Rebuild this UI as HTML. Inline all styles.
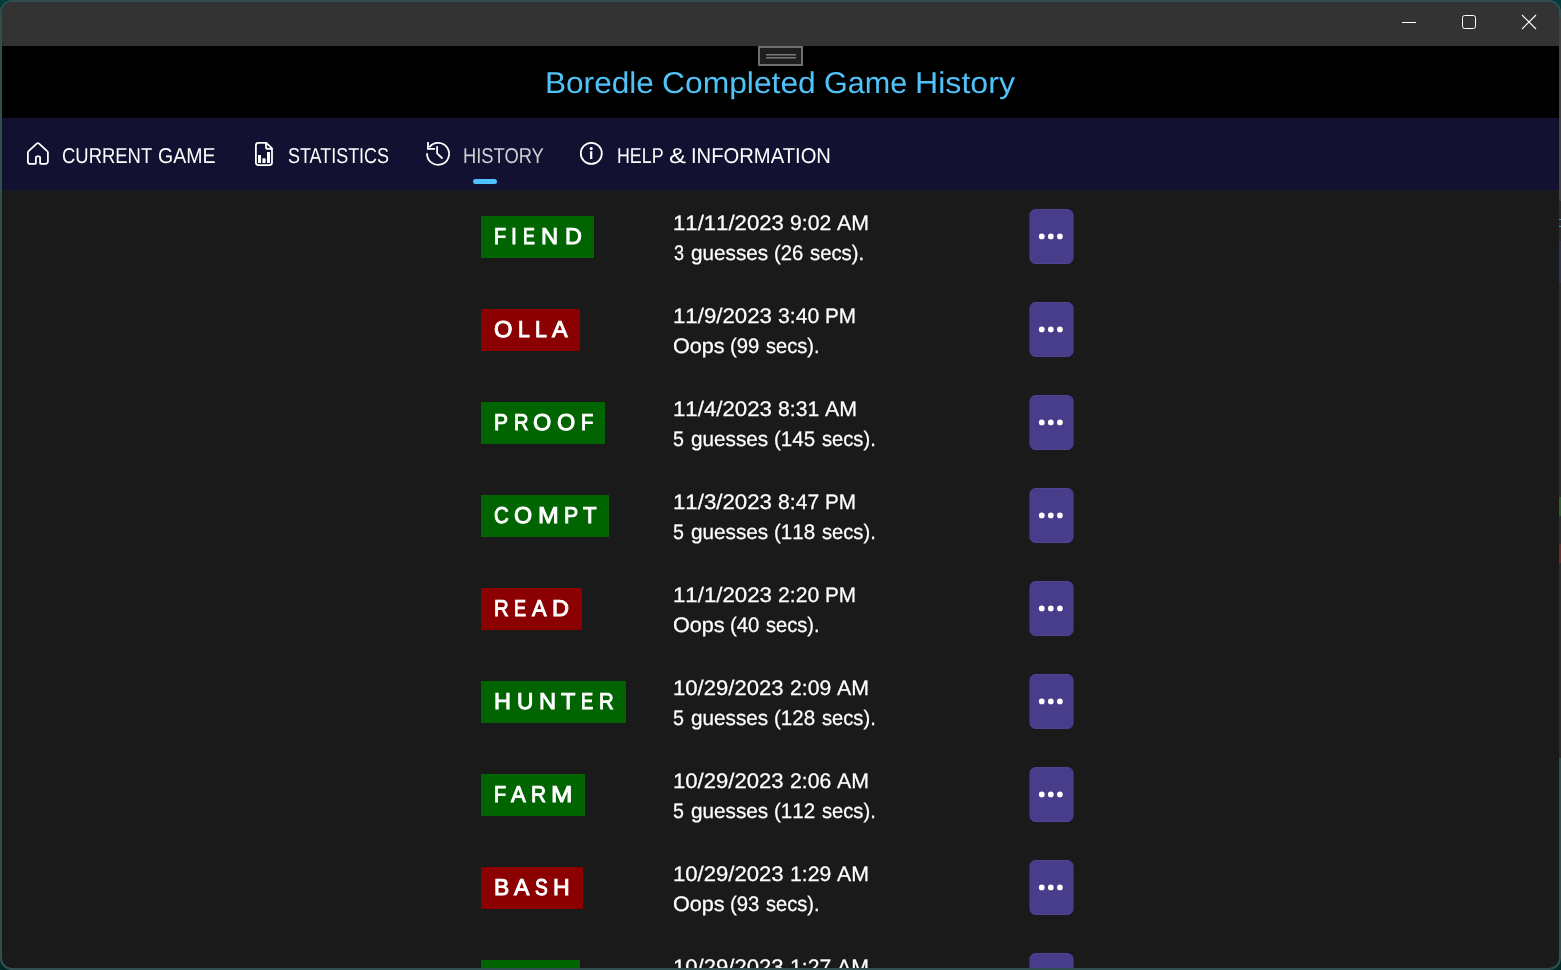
<!DOCTYPE html>
<html><head><meta charset="utf-8"><title>Boredle</title>
<style>
html,body{margin:0;padding:0;width:1561px;height:970px;overflow:hidden;background:linear-gradient(#003e3e,#002a2a);font-family:"Liberation Sans",sans-serif;}
#win{position:absolute;left:0;top:0;width:1561px;height:970px;box-sizing:border-box;border:2px solid #305050;border-radius:12px;overflow:hidden;background:#1a1a1a;}
#in{position:absolute;left:-2px;top:-2px;width:1561px;height:970px;}
.abs{position:absolute}
#tb{left:0;top:0;width:1561px;height:46px;background:#333333}
#hd{left:0;top:46px;width:1561px;height:72px;background:#000}
#nav{left:0;top:118px;width:1561px;height:72px;background:#121132}
.t{position:absolute;white-space:pre;text-rendering:geometricPrecision;line-height:1;color:#fff;transform-origin:0 0;display:block}
.nk{font-kerning:none}
#tx{position:absolute;left:0;top:0;width:1561px;height:970px;will-change:transform}
.wd{position:absolute;height:42px}
svg{position:absolute;overflow:visible}
</style></head>
<body>
<div id="win"><div id="in">
<div id="tb" class="abs"></div>
<div id="hd" class="abs"></div>
<div id="nav" class="abs"></div>
<!-- drag handle -->
<div class="abs" style="left:758px;top:46px;width:45px;height:20px;box-sizing:border-box;border:2px solid #6e6e6e;background:#1e1e1e"></div>
<div class="abs" style="left:766px;top:54px;width:30px;height:2px;background:linear-gradient(#787878 50%,#4c4c4c 50%)"></div>
<div class="abs" style="left:766px;top:57px;width:30px;height:2px;background:linear-gradient(#787878 50%,#4c4c4c 50%)"></div>
<!-- window controls -->
<svg style="left:1395px;top:8px" width="150" height="30" viewBox="1395 8 150 30" fill="none" stroke="#fff" stroke-width="1">
<path d="M1402 22.5H1416"/>
<rect x="1462.5" y="15.5" width="13" height="13" rx="2.2"/>
<path d="M1522 15L1536 29M1536 15L1522 29" stroke-width="1.1"/>
</svg>
<!-- nav icons -->
<svg style="left:20px;top:136px" width="600" height="40" viewBox="20 136 600 40" fill="none" stroke="#fff" stroke-width="1.8" stroke-linejoin="round" stroke-linecap="round">
<!-- home -->
<path d="M34.9 163.9H30.4a2.5 2.5 0 0 1-2.5-2.5V152.6a2 2 0 0 1 .7-1.5L36.7 143.6a1.8 1.8 0 0 1 2.4 0L47.2 151.1a2 2 0 0 1 .7 1.5V161.4a2.5 2.5 0 0 1-2.5 2.5H41.1a1 1 0 0 1-1-1V157.6a1.3 1.3 0 0 0-1.3-1.3h-1.6a1.3 1.3 0 0 0-1.3 1.3V162.9a1 1 0 0 1-1 1Z"/>
<!-- statistics doc -->
<path d="M258.4 142.9H266.3L272 148.4V162.6a2.5 2.5 0 0 1-2.5 2.5H258.4a2.5 2.5 0 0 1-2.5-2.5V145.4a2.5 2.5 0 0 1 2.5-2.5Z"/>
<path d="M266 143.2V146.9a2 2 0 0 0 2 2H271.8"/>
<g stroke="none" fill="#fff"><rect x="258" y="155" width="3" height="8"/><rect x="262.4" y="158.3" width="3.2" height="4.7"/><rect x="267" y="152" width="3" height="11"/></g>
<!-- history -->
<path d="M429.4 147.1A11 11 0 1 1 427.1 153.2" stroke-linecap="butt"/>
<path d="M428 142V148.85H435" stroke-linecap="butt" stroke-linejoin="miter"/>
<path d="M437.1 146.2V153.3L442.5 158.5" stroke-linecap="butt" stroke-linejoin="miter"/>
<!-- info -->
<circle cx="591.3" cy="153.4" r="10.5"/>
<path d="M591.2 151.2V159" stroke-width="2.2" stroke-linecap="butt"/>
<circle cx="591.2" cy="148.6" r="1.55" fill="#fff" stroke="none"/>
</svg>
<div class="abs" style="left:473px;top:179px;width:24px;height:5px;border-radius:2.5px;background:#4cc2ff"></div>
<div class="wd" style="left:481px;top:216px;width:113px;background:#006400"></div>
<svg class="mb" style="left:1029px;top:209px" width="46" height="56"><rect x="1" y=".5" width="43" height="54" rx="5.5" fill="#483d8b" stroke="#4e4394" stroke-width="1"/><circle cx="12.75" cy="27.4" r="2.85" fill="#fff"/><circle cx="21.8" cy="27.4" r="2.85" fill="#fff"/><circle cx="30.9" cy="27.4" r="2.85" fill="#fff"/></svg>
<div class="wd" style="left:481px;top:309px;width:99px;background:#8b0000"></div>
<svg class="mb" style="left:1029px;top:302px" width="46" height="56"><rect x="1" y=".5" width="43" height="54" rx="5.5" fill="#483d8b" stroke="#4e4394" stroke-width="1"/><circle cx="12.75" cy="27.4" r="2.85" fill="#fff"/><circle cx="21.8" cy="27.4" r="2.85" fill="#fff"/><circle cx="30.9" cy="27.4" r="2.85" fill="#fff"/></svg>
<div class="wd" style="left:481px;top:402px;width:124px;background:#006400"></div>
<svg class="mb" style="left:1029px;top:395px" width="46" height="56"><rect x="1" y=".5" width="43" height="54" rx="5.5" fill="#483d8b" stroke="#4e4394" stroke-width="1"/><circle cx="12.75" cy="27.4" r="2.85" fill="#fff"/><circle cx="21.8" cy="27.4" r="2.85" fill="#fff"/><circle cx="30.9" cy="27.4" r="2.85" fill="#fff"/></svg>
<div class="wd" style="left:481px;top:495px;width:128px;background:#006400"></div>
<svg class="mb" style="left:1029px;top:488px" width="46" height="56"><rect x="1" y=".5" width="43" height="54" rx="5.5" fill="#483d8b" stroke="#4e4394" stroke-width="1"/><circle cx="12.75" cy="27.4" r="2.85" fill="#fff"/><circle cx="21.8" cy="27.4" r="2.85" fill="#fff"/><circle cx="30.9" cy="27.4" r="2.85" fill="#fff"/></svg>
<div class="wd" style="left:481px;top:588px;width:101px;background:#8b0000"></div>
<svg class="mb" style="left:1029px;top:581px" width="46" height="56"><rect x="1" y=".5" width="43" height="54" rx="5.5" fill="#483d8b" stroke="#4e4394" stroke-width="1"/><circle cx="12.75" cy="27.4" r="2.85" fill="#fff"/><circle cx="21.8" cy="27.4" r="2.85" fill="#fff"/><circle cx="30.9" cy="27.4" r="2.85" fill="#fff"/></svg>
<div class="wd" style="left:481px;top:681px;width:145px;background:#006400"></div>
<svg class="mb" style="left:1029px;top:674px" width="46" height="56"><rect x="1" y=".5" width="43" height="54" rx="5.5" fill="#483d8b" stroke="#4e4394" stroke-width="1"/><circle cx="12.75" cy="27.4" r="2.85" fill="#fff"/><circle cx="21.8" cy="27.4" r="2.85" fill="#fff"/><circle cx="30.9" cy="27.4" r="2.85" fill="#fff"/></svg>
<div class="wd" style="left:481px;top:774px;width:104px;background:#006400"></div>
<svg class="mb" style="left:1029px;top:767px" width="46" height="56"><rect x="1" y=".5" width="43" height="54" rx="5.5" fill="#483d8b" stroke="#4e4394" stroke-width="1"/><circle cx="12.75" cy="27.4" r="2.85" fill="#fff"/><circle cx="21.8" cy="27.4" r="2.85" fill="#fff"/><circle cx="30.9" cy="27.4" r="2.85" fill="#fff"/></svg>
<div class="wd" style="left:481px;top:867px;width:102px;background:#8b0000"></div>
<svg class="mb" style="left:1029px;top:860px" width="46" height="56"><rect x="1" y=".5" width="43" height="54" rx="5.5" fill="#483d8b" stroke="#4e4394" stroke-width="1"/><circle cx="12.75" cy="27.4" r="2.85" fill="#fff"/><circle cx="21.8" cy="27.4" r="2.85" fill="#fff"/><circle cx="30.9" cy="27.4" r="2.85" fill="#fff"/></svg>
<div class="wd" style="left:481px;top:960px;width:99px;background:#006400"></div>
<svg class="mb" style="left:1029px;top:953px" width="46" height="56"><rect x="1" y=".5" width="43" height="54" rx="5.5" fill="#483d8b" stroke="#4e4394" stroke-width="1"/><circle cx="12.75" cy="27.4" r="2.85" fill="#fff"/><circle cx="21.8" cy="27.4" r="2.85" fill="#fff"/><circle cx="30.9" cy="27.4" r="2.85" fill="#fff"/></svg>
<div id="tx">
<span class="t" style="left:545.37px;top:68.50px;font-size:30.0px;color:#4fc3f7;transform:translateY(0px) scaleX(1.0523)">Boredle</span>
<span class="t" style="left:661.58px;top:68.50px;font-size:30.0px;color:#4fc3f7;transform:translateY(0px) scaleX(1.0601)">Completed</span>
<span class="t" style="left:823.77px;top:68.50px;font-size:30.0px;color:#4fc3f7;transform:translateY(0px) scaleX(1.0177)">Game</span>
<span class="t" style="left:914.86px;top:68.50px;font-size:30.0px;color:#4fc3f7;transform:translateY(0px) scaleX(1.0708)">History</span>
<span class="t" style="left:62.35px;top:146.00px;font-size:21.5px;transform:translateY(0px) scaleX(0.8579)">CURRENT</span>
<span class="t" style="left:157.79px;top:146.00px;font-size:21.5px;transform:translateY(0px) scaleX(0.9073)">GAME</span>
<span class="t" style="left:287.92px;top:146.00px;font-size:21.5px;transform:translateY(0px) scaleX(0.8343)">STATISTICS</span>
<span class="t" style="left:462.83px;top:146.00px;font-size:21.5px;color:#cfcfd6;transform:translateY(0px) scaleX(0.8530)">HISTORY</span>
<span class="t" style="left:617.06px;top:146.00px;font-size:21.5px;transform:translateY(0px) scaleX(0.8280)">HELP</span>
<span class="t" style="left:669.40px;top:146.00px;font-size:21.5px;transform:translateY(0px) scaleX(1.1827)">&amp;</span>
<span class="t" style="left:690.53px;top:146.00px;font-size:21.5px;transform:translateY(0px) scaleX(0.9399)">INFORMATION</span>
<span class="t" style="left:493.84px;top:225.40px;font-size:22.8px;-webkit-text-stroke:0.95px #fff;transform:translateY(0px) scaleX(0.8688)">F</span>
<span class="t" style="left:510.89px;top:225.40px;font-size:22.8px;-webkit-text-stroke:0.95px #fff;transform:translateY(0px) scaleX(0.9286)">I</span>
<span class="t" style="left:523.17px;top:225.40px;font-size:22.8px;-webkit-text-stroke:0.95px #fff;transform:translateY(0px) scaleX(0.7819)">E</span>
<span class="t" style="left:540.83px;top:225.40px;font-size:22.8px;-webkit-text-stroke:0.95px #fff;transform:translateY(0px) scaleX(1.0422)">N</span>
<span class="t" style="left:564.93px;top:225.40px;font-size:22.8px;-webkit-text-stroke:0.95px #fff;transform:translateY(0px) scaleX(1.0256)">D</span>
<span class="t nk" style="left:672.53px;top:213.00px;font-size:21.0px;-webkit-text-stroke:0.25px #fff;transform:translateY(0px) scaleX(1.0544)">11/11/2023</span>
<span class="t nk" style="left:790.17px;top:213.00px;font-size:21.0px;-webkit-text-stroke:0.25px #fff;transform:translateY(0px) scaleX(1.0064)">9:02</span>
<span class="t" style="left:837.10px;top:213.00px;font-size:21.0px;-webkit-text-stroke:0.25px #fff;transform:translateY(0px) scaleX(1.0133)">AM</span>
<span class="t nk" style="left:673.87px;top:243.00px;font-size:21.0px;-webkit-text-stroke:0.25px #fff;transform:translateY(0px) scaleX(0.8571)">3</span>
<span class="t" style="left:690.94px;top:243.00px;font-size:21.0px;-webkit-text-stroke:0.25px #fff;transform:translateY(0px) scaleX(0.9872)">guesses</span>
<span class="t nk" style="left:774.42px;top:243.00px;font-size:21.0px;-webkit-text-stroke:0.25px #fff;transform:translateY(0px) scaleX(0.9644)">(26</span>
<span class="t" style="left:810.18px;top:243.00px;font-size:21.0px;-webkit-text-stroke:0.25px #fff;transform:translateY(0px) scaleX(0.9647)">secs).</span>
<span class="t" style="left:493.90px;top:318.40px;font-size:22.8px;-webkit-text-stroke:0.95px #fff;transform:translateY(0px) scaleX(1.0389)">O</span>
<span class="t" style="left:517.76px;top:318.40px;font-size:22.8px;-webkit-text-stroke:0.95px #fff;transform:translateY(0px) scaleX(0.9322)">L</span>
<span class="t" style="left:534.89px;top:318.40px;font-size:22.8px;-webkit-text-stroke:0.95px #fff;transform:translateY(0px) scaleX(0.9401)">L</span>
<span class="t" style="left:551.81px;top:318.40px;font-size:22.8px;-webkit-text-stroke:0.95px #fff;transform:translateY(0px) scaleX(1.0279)">A</span>
<span class="t nk" style="left:672.54px;top:306.00px;font-size:21.0px;-webkit-text-stroke:0.25px #fff;transform:translateY(0px) scaleX(1.0595)">11/9/2023</span>
<span class="t nk" style="left:777.67px;top:306.00px;font-size:21.0px;-webkit-text-stroke:0.25px #fff;transform:translateY(0px) scaleX(1.0064)">3:40</span>
<span class="t" style="left:825.32px;top:306.00px;font-size:21.0px;-webkit-text-stroke:0.25px #fff;transform:translateY(0px) scaleX(0.9860)">PM</span>
<span class="t" style="left:672.87px;top:336.00px;font-size:21.0px;-webkit-text-stroke:0.25px #fff;transform:translateY(0px) scaleX(1.0289)">Oops</span>
<span class="t nk" style="left:729.89px;top:336.00px;font-size:21.0px;-webkit-text-stroke:0.25px #fff;transform:translateY(0px) scaleX(0.9691)">(99</span>
<span class="t" style="left:765.94px;top:336.00px;font-size:21.0px;-webkit-text-stroke:0.25px #fff;transform:translateY(0px) scaleX(0.9560)">secs).</span>
<span class="t" style="left:493.84px;top:411.40px;font-size:22.8px;-webkit-text-stroke:0.95px #fff;transform:translateY(0px) scaleX(0.9207)">P</span>
<span class="t" style="left:514.09px;top:411.40px;font-size:22.8px;-webkit-text-stroke:0.95px #fff;transform:translateY(0px) scaleX(0.8840)">R</span>
<span class="t" style="left:533.04px;top:411.40px;font-size:22.8px;-webkit-text-stroke:0.95px #fff;transform:translateY(0px) scaleX(1.0297)">O</span>
<span class="t" style="left:556.55px;top:411.40px;font-size:22.8px;-webkit-text-stroke:0.95px #fff;transform:translateY(0px) scaleX(1.0278)">O</span>
<span class="t" style="left:580.77px;top:411.40px;font-size:22.8px;-webkit-text-stroke:0.95px #fff;transform:translateY(0px) scaleX(0.8836)">F</span>
<span class="t nk" style="left:672.54px;top:399.00px;font-size:21.0px;-webkit-text-stroke:0.25px #fff;transform:translateY(0px) scaleX(1.0595)">11/4/2023</span>
<span class="t nk" style="left:777.67px;top:399.00px;font-size:21.0px;-webkit-text-stroke:0.25px #fff;transform:translateY(0px) scaleX(1.0064)">8:31</span>
<span class="t" style="left:824.83px;top:399.00px;font-size:21.0px;-webkit-text-stroke:0.25px #fff;transform:translateY(0px) scaleX(1.0164)">AM</span>
<span class="t nk" style="left:673.10px;top:429.00px;font-size:21.0px;-webkit-text-stroke:0.25px #fff;transform:translateY(0px) scaleX(0.9356)">5</span>
<span class="t" style="left:690.94px;top:429.00px;font-size:21.0px;-webkit-text-stroke:0.25px #fff;transform:translateY(0px) scaleX(0.9872)">guesses</span>
<span class="t nk" style="left:774.36px;top:429.00px;font-size:21.0px;-webkit-text-stroke:0.25px #fff;transform:translateY(0px) scaleX(0.9773)">(145</span>
<span class="t" style="left:821.82px;top:429.00px;font-size:21.0px;-webkit-text-stroke:0.25px #fff;transform:translateY(0px) scaleX(0.9593)">secs).</span>
<span class="t" style="left:493.54px;top:504.40px;font-size:22.8px;-webkit-text-stroke:0.95px #fff;transform:translateY(0px) scaleX(0.8944)">C</span>
<span class="t" style="left:513.78px;top:504.40px;font-size:22.8px;-webkit-text-stroke:0.95px #fff;transform:translateY(0px) scaleX(1.0209)">O</span>
<span class="t" style="left:537.55px;top:504.40px;font-size:22.8px;-webkit-text-stroke:0.95px #fff;transform:translateY(0px) scaleX(1.0902)">M</span>
<span class="t" style="left:564.26px;top:504.40px;font-size:22.8px;-webkit-text-stroke:0.95px #fff;transform:translateY(0px) scaleX(0.9347)">P</span>
<span class="t" style="left:583.22px;top:504.40px;font-size:22.8px;-webkit-text-stroke:0.95px #fff;transform:translateY(0px) scaleX(0.9725)">T</span>
<span class="t nk" style="left:672.54px;top:492.00px;font-size:21.0px;-webkit-text-stroke:0.25px #fff;transform:translateY(0px) scaleX(1.0595)">11/3/2023</span>
<span class="t nk" style="left:777.67px;top:492.00px;font-size:21.0px;-webkit-text-stroke:0.25px #fff;transform:translateY(0px) scaleX(1.0064)">8:47</span>
<span class="t" style="left:825.32px;top:492.00px;font-size:21.0px;-webkit-text-stroke:0.25px #fff;transform:translateY(0px) scaleX(0.9860)">PM</span>
<span class="t nk" style="left:673.10px;top:522.00px;font-size:21.0px;-webkit-text-stroke:0.25px #fff;transform:translateY(0px) scaleX(0.9356)">5</span>
<span class="t" style="left:690.94px;top:522.00px;font-size:21.0px;-webkit-text-stroke:0.25px #fff;transform:translateY(0px) scaleX(0.9872)">guesses</span>
<span class="t nk" style="left:774.36px;top:522.00px;font-size:21.0px;-webkit-text-stroke:0.25px #fff;transform:translateY(0px) scaleX(0.9773)">(118</span>
<span class="t" style="left:821.82px;top:522.00px;font-size:21.0px;-webkit-text-stroke:0.25px #fff;transform:translateY(0px) scaleX(0.9593)">secs).</span>
<span class="t" style="left:493.84px;top:597.40px;font-size:22.8px;-webkit-text-stroke:0.95px #fff;transform:translateY(0px) scaleX(0.8926)">R</span>
<span class="t" style="left:513.94px;top:597.40px;font-size:22.8px;-webkit-text-stroke:0.95px #fff;transform:translateY(0px) scaleX(0.7926)">E</span>
<span class="t" style="left:531.75px;top:597.40px;font-size:22.8px;-webkit-text-stroke:0.95px #fff;transform:translateY(0px) scaleX(0.9564)">A</span>
<span class="t" style="left:552.02px;top:597.40px;font-size:22.8px;-webkit-text-stroke:0.95px #fff;transform:translateY(0px) scaleX(1.0345)">D</span>
<span class="t nk" style="left:672.54px;top:585.00px;font-size:21.0px;-webkit-text-stroke:0.25px #fff;transform:translateY(0px) scaleX(1.0595)">11/1/2023</span>
<span class="t nk" style="left:777.67px;top:585.00px;font-size:21.0px;-webkit-text-stroke:0.25px #fff;transform:translateY(0px) scaleX(1.0064)">2:20</span>
<span class="t" style="left:825.32px;top:585.00px;font-size:21.0px;-webkit-text-stroke:0.25px #fff;transform:translateY(0px) scaleX(0.9860)">PM</span>
<span class="t" style="left:672.87px;top:615.00px;font-size:21.0px;-webkit-text-stroke:0.25px #fff;transform:translateY(0px) scaleX(1.0289)">Oops</span>
<span class="t nk" style="left:729.89px;top:615.00px;font-size:21.0px;-webkit-text-stroke:0.25px #fff;transform:translateY(0px) scaleX(0.9691)">(40</span>
<span class="t" style="left:765.94px;top:615.00px;font-size:21.0px;-webkit-text-stroke:0.25px #fff;transform:translateY(0px) scaleX(0.9560)">secs).</span>
<span class="t" style="left:494.05px;top:690.40px;font-size:22.8px;-webkit-text-stroke:0.95px #fff;transform:translateY(0px) scaleX(1.0299)">H</span>
<span class="t" style="left:516.92px;top:690.40px;font-size:22.8px;-webkit-text-stroke:0.95px #fff;transform:translateY(0px) scaleX(0.9908)">U</span>
<span class="t" style="left:539.32px;top:690.40px;font-size:22.8px;-webkit-text-stroke:0.95px #fff;transform:translateY(0px) scaleX(1.0375)">N</span>
<span class="t" style="left:561.05px;top:690.40px;font-size:22.8px;-webkit-text-stroke:0.95px #fff;transform:translateY(0px) scaleX(1.0289)">T</span>
<span class="t" style="left:580.52px;top:690.40px;font-size:22.8px;-webkit-text-stroke:0.95px #fff;transform:translateY(0px) scaleX(0.8022)">E</span>
<span class="t" style="left:599.13px;top:690.40px;font-size:22.8px;-webkit-text-stroke:0.95px #fff;transform:translateY(0px) scaleX(0.8915)">R</span>
<span class="t nk" style="left:672.72px;top:678.00px;font-size:21.0px;-webkit-text-stroke:0.25px #fff;transform:translateY(0px) scaleX(1.0524)">10/29/2023</span>
<span class="t nk" style="left:790.17px;top:678.00px;font-size:21.0px;-webkit-text-stroke:0.25px #fff;transform:translateY(0px) scaleX(1.0064)">2:09</span>
<span class="t" style="left:837.10px;top:678.00px;font-size:21.0px;-webkit-text-stroke:0.25px #fff;transform:translateY(0px) scaleX(1.0133)">AM</span>
<span class="t nk" style="left:673.10px;top:708.00px;font-size:21.0px;-webkit-text-stroke:0.25px #fff;transform:translateY(0px) scaleX(0.9356)">5</span>
<span class="t" style="left:690.94px;top:708.00px;font-size:21.0px;-webkit-text-stroke:0.25px #fff;transform:translateY(0px) scaleX(0.9872)">guesses</span>
<span class="t nk" style="left:774.36px;top:708.00px;font-size:21.0px;-webkit-text-stroke:0.25px #fff;transform:translateY(0px) scaleX(0.9773)">(128</span>
<span class="t" style="left:821.82px;top:708.00px;font-size:21.0px;-webkit-text-stroke:0.25px #fff;transform:translateY(0px) scaleX(0.9593)">secs).</span>
<span class="t" style="left:493.84px;top:783.40px;font-size:22.8px;-webkit-text-stroke:0.95px #fff;transform:translateY(0px) scaleX(0.8688)">F</span>
<span class="t" style="left:510.77px;top:783.40px;font-size:22.8px;-webkit-text-stroke:0.95px #fff;transform:translateY(0px) scaleX(0.9697)">A</span>
<span class="t" style="left:531.06px;top:783.40px;font-size:22.8px;-webkit-text-stroke:0.95px #fff;transform:translateY(0px) scaleX(0.9124)">R</span>
<span class="t" style="left:550.93px;top:783.40px;font-size:22.8px;-webkit-text-stroke:0.95px #fff;transform:translateY(0px) scaleX(1.1255)">M</span>
<span class="t nk" style="left:672.72px;top:771.00px;font-size:21.0px;-webkit-text-stroke:0.25px #fff;transform:translateY(0px) scaleX(1.0524)">10/29/2023</span>
<span class="t nk" style="left:790.17px;top:771.00px;font-size:21.0px;-webkit-text-stroke:0.25px #fff;transform:translateY(0px) scaleX(1.0064)">2:06</span>
<span class="t" style="left:837.10px;top:771.00px;font-size:21.0px;-webkit-text-stroke:0.25px #fff;transform:translateY(0px) scaleX(1.0133)">AM</span>
<span class="t nk" style="left:673.10px;top:801.00px;font-size:21.0px;-webkit-text-stroke:0.25px #fff;transform:translateY(0px) scaleX(0.9356)">5</span>
<span class="t" style="left:690.94px;top:801.00px;font-size:21.0px;-webkit-text-stroke:0.25px #fff;transform:translateY(0px) scaleX(0.9872)">guesses</span>
<span class="t nk" style="left:774.36px;top:801.00px;font-size:21.0px;-webkit-text-stroke:0.25px #fff;transform:translateY(0px) scaleX(0.9773)">(112</span>
<span class="t" style="left:821.82px;top:801.00px;font-size:21.0px;-webkit-text-stroke:0.25px #fff;transform:translateY(0px) scaleX(0.9593)">secs).</span>
<span class="t" style="left:494.28px;top:876.40px;font-size:22.8px;-webkit-text-stroke:0.95px #fff;transform:translateY(0px) scaleX(1.0034)">B</span>
<span class="t" style="left:513.54px;top:876.40px;font-size:22.8px;-webkit-text-stroke:0.95px #fff;transform:translateY(0px) scaleX(1.0144)">A</span>
<span class="t" style="left:534.95px;top:876.40px;font-size:22.8px;-webkit-text-stroke:0.95px #fff;transform:translateY(0px) scaleX(0.8413)">S</span>
<span class="t" style="left:553.11px;top:876.40px;font-size:22.8px;-webkit-text-stroke:0.95px #fff;transform:translateY(0px) scaleX(1.0109)">H</span>
<span class="t nk" style="left:672.72px;top:864.00px;font-size:21.0px;-webkit-text-stroke:0.25px #fff;transform:translateY(0px) scaleX(1.0524)">10/29/2023</span>
<span class="t nk" style="left:790.17px;top:864.00px;font-size:21.0px;-webkit-text-stroke:0.25px #fff;transform:translateY(0px) scaleX(1.0064)">1:29</span>
<span class="t" style="left:837.10px;top:864.00px;font-size:21.0px;-webkit-text-stroke:0.25px #fff;transform:translateY(0px) scaleX(1.0133)">AM</span>
<span class="t" style="left:672.87px;top:894.00px;font-size:21.0px;-webkit-text-stroke:0.25px #fff;transform:translateY(0px) scaleX(1.0289)">Oops</span>
<span class="t nk" style="left:729.89px;top:894.00px;font-size:21.0px;-webkit-text-stroke:0.25px #fff;transform:translateY(0px) scaleX(0.9691)">(93</span>
<span class="t" style="left:765.94px;top:894.00px;font-size:21.0px;-webkit-text-stroke:0.25px #fff;transform:translateY(0px) scaleX(0.9560)">secs).</span>
<span class="t nk" style="left:672.72px;top:957.00px;font-size:21.0px;-webkit-text-stroke:0.25px #fff;transform:translateY(0px) scaleX(1.0524)">10/29/2023</span>
<span class="t nk" style="left:790.17px;top:957.00px;font-size:21.0px;-webkit-text-stroke:0.25px #fff;transform:translateY(0px) scaleX(1.0064)">1:27</span>
<span class="t" style="left:837.10px;top:957.00px;font-size:21.0px;-webkit-text-stroke:0.25px #fff;transform:translateY(0px) scaleX(1.0133)">AM</span>
</div>
</div></div>
<!-- right edge strip (background window showing) -->
<div class="abs" style="left:1559px;top:18px;width:2px;height:183px;background:#424242"></div>
<div class="abs" style="left:1559px;top:201px;width:2px;height:557px;background:#2d2d2d"></div>
<div class="abs" style="left:1559px;top:241px;width:2px;height:42px;background:#34344a"></div>
<div class="abs" style="left:1559px;top:497px;width:2px;height:19px;background:#2f5f2f"></div>
<div class="abs" style="left:1559px;top:544px;width:2px;height:19px;background:#6a2c2c"></div>
<div class="abs" style="left:1559px;top:219px;width:2px;height:1px;background:#4f8aa3"></div>
<div class="abs" style="left:1559px;top:226px;width:2px;height:1px;background:#4f8aa3"></div>
</body></html>
